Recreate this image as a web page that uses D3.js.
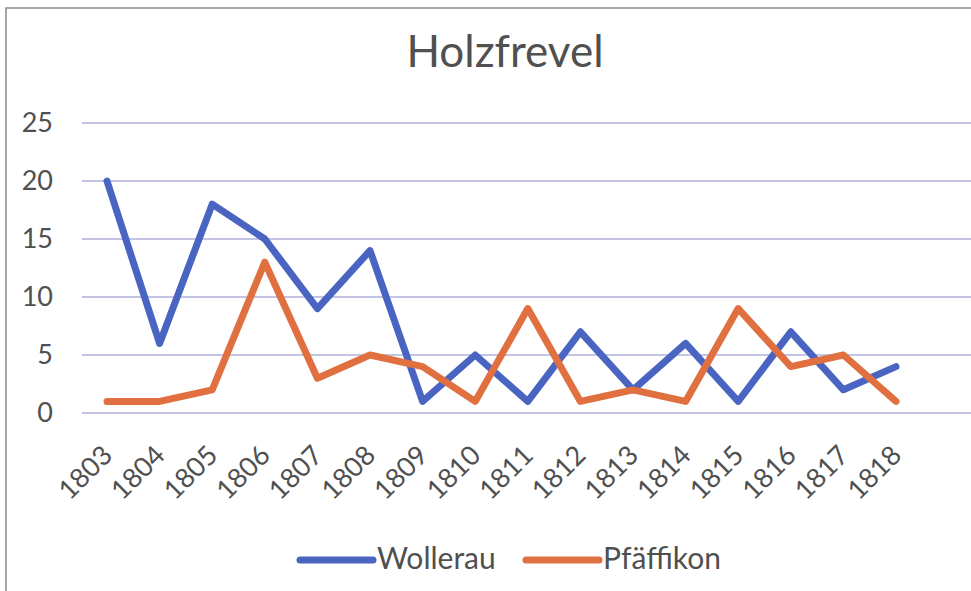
<!DOCTYPE html>
<html>
<head>
<meta charset="utf-8">
<script src="https://cdn.jsdelivr.net/npm/d3@7"></script>
<style>
  body { margin: 0; background: #fff; }
  svg { display: block; font-family: Lato, "Open Sans", sans-serif; }
</style>
</head>
<body>
<div id="chart"></div>
<script>
const years = ['1803','1804','1805','1806','1807','1808','1809','1810','1811','1812','1813','1814','1815','1816','1817','1818'];
const wollerau = [20, 6, 18, 15, 9, 14, 1, 5, 1, 7, 2, 6, 1, 7, 2, 4];
const pfaeffikon = [1, 1, 2, 13, 3, 5, 4, 1, 9, 1, 2, 1, 9, 4, 5, 1];
const yTicks = [0, 5, 10, 15, 20, 25];

const series = [
  { name: 'Wollerau', values: wollerau, color: '#4a64c2' },
  { name: 'Pfäffikon', values: pfaeffikon, color: '#e0703f' }
];

let w = 971, h = 591;
let svg = d3.select('#chart').append('svg').attr('width', w).attr('height', h);

// frame of the scanned chart
svg.append('path')
  .attr('d', 'M6,591 V8 H971')
  .attr('fill', 'none')
  .attr('stroke', '#8a8a8a')
  .attr('stroke-width', 1.5);

svg.append('text')
  .attr('x', 505)
  .attr('y', 67)
  .attr('text-anchor', 'middle')
  .attr('font-size', 44)
  .attr('fill', '#505050')
  .text('Holzfrevel');

let xScale = d3.scalePoint()
  .domain(years)
  .range([107, 896]);

let yScale = d3.scaleLinear()
  .domain([0, 25])
  .range([413, 123]);

// gridlines
svg.append('g')
  .selectAll('line')
  .data(yTicks)
  .enter()
  .append('line')
  .attr('x1', 82)
  .attr('x2', 971)
  .attr('y1', d => yScale(d))
  .attr('y2', d => yScale(d))
  .attr('stroke', '#c4c4e6')
  .attr('stroke-width', 2);

// y axis labels
const yAxis = d3.axisLeft(yScale).tickValues(yTicks).tickSize(0).tickPadding(0);
svg.append('g')
  .attr('id', 'y-axis')
  .attr('transform', 'translate(53,0)')
  .call(yAxis)
  .call(g => g.select('.domain').remove())
  .call(g => g.selectAll('text')
    .attr('font-size', 27)
    .attr('font-family', 'Lato, "Open Sans", sans-serif')
    .attr('fill', '#505050'));

// x axis labels, rotated
svg.append('g')
  .attr('id', 'x-axis')
  .selectAll('text')
  .data(years)
  .enter()
  .append('text')
  .attr('transform', d => 'translate(' + (xScale(d) + 7) + ',457) rotate(-45)')
  .attr('text-anchor', 'end')
  .attr('font-size', 27)
  .attr('fill', '#505050')
  .text(d => d);

let line = d3.line()
  .x((d, i) => xScale(years[i]))
  .y(d => yScale(d));

svg.append('g')
  .selectAll('path')
  .data(series)
  .enter()
  .append('path')
  .attr('d', d => line(d.values))
  .attr('fill', 'none')
  .attr('stroke', d => d.color)
  .attr('stroke-width', 7)
  .attr('stroke-linejoin', 'round')
  .attr('stroke-linecap', 'round');

// legend
const legendX = [300, 526];
let legend = svg.append('g')
  .selectAll('g')
  .data(series)
  .enter()
  .append('g')
  .attr('transform', (d, i) => 'translate(' + legendX[i] + ',560)');

legend.append('line')
  .attr('x1', 0)
  .attr('x2', 73)
  .attr('stroke', d => d.color)
  .attr('stroke-width', 7)
  .attr('stroke-linecap', 'round');

legend.append('text')
  .attr('x', 77)
  .attr('y', 9)
  .attr('font-size', 30)
  .attr('fill', '#505050')
  .text(d => d.name);
</script>
</body>
</html>
